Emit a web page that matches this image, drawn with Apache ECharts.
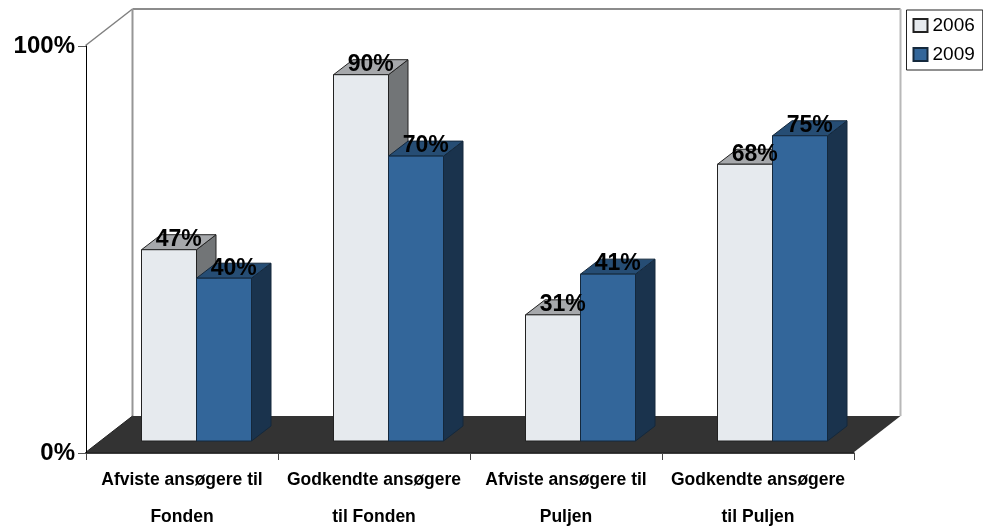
<!DOCTYPE html>
<html>
<head>
<meta charset="utf-8">
<style>html,body{margin:0;padding:0;background:#fff}#c{width:983px;height:527px}</style>
<script src="https://cdn.jsdelivr.net/npm/echarts@6/dist/echarts.min.js"></script>
</head>
<body>
<div id="c"></div>
<script>
var categories = ['Afviste ansøgere til\nFonden', 'Godkendte ansøgere\ntil Fonden', 'Afviste ansøgere til\nPuljen', 'Godkendte ansøgere\ntil Puljen'];
var values2006 = [47, 90, 31, 68];
var values2009 = [40, 70, 41, 75];
var yMin = 0, yMax = 100;

var FONT = '"Liberation Sans", Arial, sans-serif';
var WALL_DX = 47, WALL_DY = 36.5;
var BAR_DX = 19.5, BAR_DY = 15;
var INSET_DX = 14, INSET_DY = 12;
var BAR_W = 55;

var palettes = [
  {front: '#E6EAEE', top: '#A6A8AB', side: '#727577', stroke: '#222222'},
  {front: '#33669A', top: '#264D74', side: '#1A334D', stroke: '#14283C'}
];

function poly(pts, fill, stroke, lw) {
  return {type: 'polygon', shape: {points: pts}, style: {fill: fill, stroke: stroke, lineWidth: lw === undefined ? 1 : lw}};
}
function line(x1, y1, x2, y2, color, lw) {
  return {type: 'line', shape: {x1: x1, y1: y1, x2: x2, y2: y2}, style: {stroke: color, lineWidth: lw, fill: null}};
}

function renderFrame(params) {
  var g = params.coordSys;
  var l = g.x - 0.5, r = g.x + g.width - 0.5, t = g.y - 0.5, b = g.y + g.height - 0.5;
  var dx = WALL_DX, dy = WALL_DY;
  return {type: 'group', children: [
    poly([[l, b], [r, b], [r + dx, b - dy], [l + dx, b - dy]], '#333333', null, 0),
    line(l, t, l + dx, t - dy, '#808080', 1.5),
    line(l + dx, t - dy, r + dx, t - dy, '#8C8C8C', 2),
    line(l + dx, t - dy, l + dx, b - dy, '#969696', 2),
    line(r + dx, t - dy, r + dx, b - dy, '#B8B8B8', 2),
    line(l, b, l + dx, b - dy, '#222222', 1)
  ]};
}

function makeBarRenderer(idx) {
  return function (params, api) {
    var cat = api.value(0), val = api.value(1);
    var p0 = api.coord([cat, 0]);
    var p1 = api.coord([cat, val]);
    var c = palettes[idx];
    var x0 = Math.round(p0[0] + INSET_DX - BAR_W + idx * BAR_W) + 0.5;
    var x1 = x0 + BAR_W;
    var yb = p0[1] - INSET_DY;
    var yt = p1[1] - INSET_DY;
    var dx = BAR_DX, dy = BAR_DY;
    return {type: 'group', children: [
      poly([[x1, yb], [x1 + dx, yb - dy], [x1 + dx, yt - dy], [x1, yt]], c.side, c.stroke),
      poly([[x0, yt], [x1, yt], [x1 + dx, yt - dy], [x0 + dx, yt - dy]], c.top, c.stroke),
      poly([[x0, yb], [x1, yb], [x1, yt], [x0, yt]], c.front, c.stroke)
    ]};
  };
}

function makeLabelRenderer(idx) {
  return function (params, api) {
    var cat = api.value(0), val = api.value(1);
    var p1 = api.coord([cat, val]);
    var x0 = p1[0] + INSET_DX - BAR_W + idx * BAR_W;
    return {type: 'text', style: {
      text: val + '%',
      x: x0 + BAR_W / 2 + BAR_DX / 2 + 0.5,
      y: p1[1] - INSET_DY - 10,
      align: 'center', verticalAlign: 'middle',
      font: 'bold 23px ' + FONT, fill: '#000000'
    }};
  };
}

function pairs(arr) { return arr.map(function (v, i) { return [i, v]; }); }

var chart = echarts.init(document.getElementById('c'), null, {renderer: 'canvas'});
chart.setOption({
  animation: false,
  backgroundColor: '#ffffff',
  grid: {left: 86, right: 129, top: 46, bottom: 74, outerBoundsMode: 'none'},
  legend: {
    left: 906.5, top: 10, orient: 'vertical',
    data: ['2006', '2009'],
    icon: 'rect', itemWidth: 14, itemHeight: 13, itemGap: 10,
    padding: [6, 8, 6, 6],
    borderColor: '#222222', borderWidth: 1, backgroundColor: '#ffffff',
    textStyle: {fontFamily: FONT, fontSize: 19, color: '#000000'}
  },
  xAxis: {
    type: 'category', data: categories, boundaryGap: true, z: 5,
    axisLine: {show: true, lineStyle: {color: '#000000', width: 1.5}},
    axisTick: {show: true, length: 7, lineStyle: {color: '#444444', width: 1}},
    axisLabel: {interval: 0, margin: 9, fontFamily: FONT, fontWeight: 'bold', fontSize: 17.5, lineHeight: 37, color: '#000000'},
    splitLine: {show: false}
  },
  yAxis: {
    type: 'value', min: yMin, max: yMax, interval: yMax - yMin, z: 5,
    axisLine: {show: true, lineStyle: {color: '#000000', width: 1}},
    axisTick: {show: true, length: 8, lineStyle: {color: '#555555', width: 1}},
    axisLabel: {margin: 11, fontFamily: FONT, fontWeight: 'bold', fontSize: 24, color: '#000000', formatter: '{value}%', padding: [3, 0, 0, 0]},
    splitLine: {show: false}
  },
  series: [
    {name: 'frame', type: 'custom', renderItem: renderFrame, data: [[0, 0]], z: 1, silent: true, clip: false},
    {name: '2006', type: 'custom', renderItem: makeBarRenderer(0), data: pairs(values2006), encode: {x: 0, y: 1}, z: 2,
      itemStyle: {color: palettes[0].front, borderColor: palettes[0].stroke, borderWidth: 1}},
    {name: '2009', type: 'custom', renderItem: makeBarRenderer(1), data: pairs(values2009), encode: {x: 0, y: 1}, z: 3,
      itemStyle: {color: palettes[1].front, borderColor: palettes[1].stroke, borderWidth: 1}},
    {name: 'labels2006', type: 'custom', renderItem: makeLabelRenderer(0), data: pairs(values2006), encode: {x: 0, y: 1}, z: 6},
    {name: 'labels2009', type: 'custom', renderItem: makeLabelRenderer(1), data: pairs(values2009), encode: {x: 0, y: 1}, z: 6}
  ]
});
</script>
</body>
</html>
